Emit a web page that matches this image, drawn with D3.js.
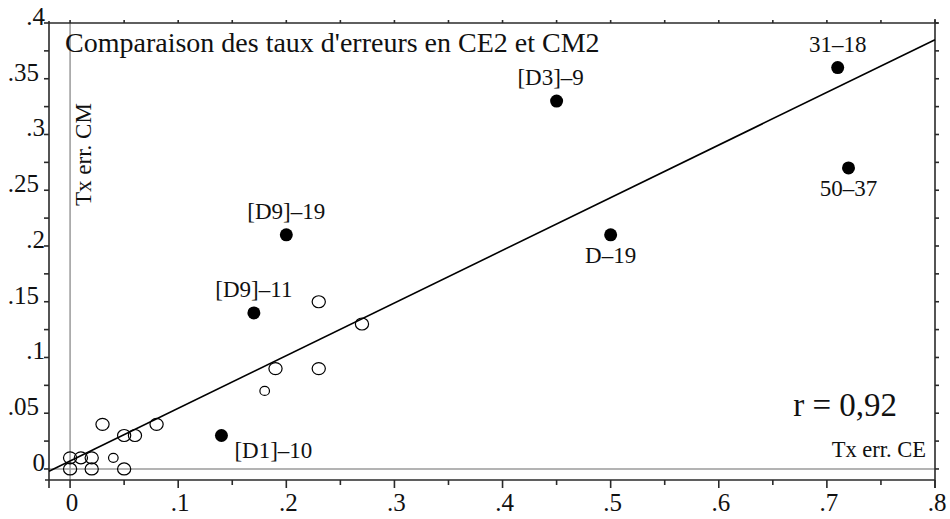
<!DOCTYPE html>
<meta charset="utf-8">
<style>
body { margin: 0; background: #fff; }
svg { display: block; }
text { font-family: "Liberation Serif", "Times New Roman", serif; fill: #111; }
</style>
<svg width="950" height="519"></svg>
<script src="https://d3js.org/d3.v7.min.js"></script>
<script>

// points marked in black, with their labels
var filledX = [0.71, 0.72, 0.45, 0.50, 0.20, 0.17, 0.14];
var filledY = [0.36, 0.27, 0.33, 0.21, 0.21, 0.14, 0.03];
var filledLabels = ["31\u201318", "50\u201337", "[D3]\u20139", "D\u201319", "[D9]\u201319", "[D9]\u201311", "[D1]\u201310"];
var labelSide = ["above", "below", "aboveLeft", "below", "above", "above", "right"];

// other items (open circles); weight 1 = small circle
var openX = [0.23, 0.27, 0.19, 0.23, 0.18, 0.08, 0.06, 0.05, 0.03, 0.04, 0.05, 0, 0, 0.01, 0.02, 0.02];
var openY = [0.15, 0.13, 0.09, 0.09, 0.07, 0.04, 0.03, 0.03, 0.04, 0.01, 0, 0.01, 0, 0.01, 0.01, 0];
var openW = [2, 2, 2, 2, 1, 2, 2, 2, 2, 1, 2, 2, 2, 2, 2, 2];

// regression line end points
var fitX = [-0.0195, 0.8];
var fitY = [-0.002, 0.385];

var xTicks = [0, 0.1, 0.2, 0.3, 0.4, 0.5, 0.6, 0.7, 0.8];
var xTickLabels = ["0", ".1", ".2", ".3", ".4", ".5", ".6", ".7", ".8"];
var yTicks = [0, 0.05, 0.1, 0.15, 0.2, 0.25, 0.3, 0.35, 0.4];
var yTickLabels = ["0", ".05", ".1", ".15", ".2", ".25", ".3", ".35", ".4"];

var xDomain = [-0.0195, 0.8];
var yDomain = [-0.0099, 0.4];

(function() {
var svg = d3.select("svg");
var left = 49, right = 935, top = 23, bottom = 480;

var x = d3.scaleLinear().domain(xDomain).range([left, right]);
var y = d3.scaleLinear().domain(yDomain).range([bottom, top]);

var axisColor = "#2a2a2a";

// grey zero lines
svg.append("line")
    .attr("x1", x(0)).attr("x2", x(0))
    .attr("y1", top).attr("y2", bottom)
    .style("stroke", "#9a9a9a").style("stroke-width", 1.5);
svg.append("line")
    .attr("x1", left).attr("x2", right)
    .attr("y1", y(0)).attr("y2", y(0))
    .style("stroke", "#9a9a9a").style("stroke-width", 1.5);

// frame
var frame = svg.append("g").style("stroke", axisColor).style("stroke-width", 1.6);
frame.append("line").attr("x1", left - 4).attr("x2", right).attr("y1", bottom).attr("y2", bottom);
frame.append("line").attr("x1", left).attr("x2", right + 3).attr("y1", top).attr("y2", top);
frame.append("line").attr("x1", left).attr("x2", left).attr("y1", top - 2).attr("y2", bottom + 8);
frame.append("line").attr("x1", right).attr("x2", right).attr("y1", top - 4).attr("y2", bottom + 8);

var xMinor = d3.range(0, 0.8001, 0.05);
var yMinor = d3.range(0, 0.4001, 0.025);

// bottom ticks (down), top ticks (up)
frame.selectAll(".bt").data(xMinor).enter().append("line")
    .attr("x1", function(d) { return x(d); }).attr("x2", function(d) { return x(d); })
    .attr("y1", bottom)
    .attr("y2", function(d, i) { return bottom + (i % 2 === 0 ? 8 : 5); });
frame.selectAll(".tt").data(xMinor).enter().append("line")
    .attr("x1", function(d) { return x(d); }).attr("x2", function(d) { return x(d); })
    .attr("y1", top).attr("y2", top - 3);

// left ticks (out), right ticks (out)
frame.selectAll(".lt").data(yMinor).enter().append("line")
    .attr("y1", function(d) { return y(d); }).attr("y2", function(d) { return y(d); })
    .attr("x1", left).attr("x2", left - 5);
frame.selectAll(".rt").data(yMinor).enter().append("line")
    .attr("y1", function(d) { return y(d); }).attr("y2", function(d) { return y(d); })
    .attr("x1", right).attr("x2", right + 4);

// tick labels
svg.selectAll(".xl").data(xTicks).enter().append("text")
    .attr("x", function(d) { return x(d) + 2; })
    .attr("y", 511)
    .attr("text-anchor", "middle")
    .style("font-size", "25px")
    .text(function(d, i) { return xTickLabels[i]; });

svg.selectAll(".yl").data(yTicks).enter().append("text")
    .attr("x", function(d, i) { return yTickLabels[i].length > 2 ? 39 : 45; })
    .attr("y", function(d) { return y(d) + 2; })
    .attr("text-anchor", "end")
    .style("font-size", "25px")
    .text(function(d, i) { return yTickLabels[i]; });

// fit line
svg.append("line")
    .attr("x1", x(fitX[0])).attr("y1", y(fitY[0]))
    .attr("x2", x(fitX[1])).attr("y2", y(fitY[1]))
    .style("stroke", "#000").style("stroke-width", 1.6);

// open circles
svg.selectAll(".open").data(openX).enter().append("ellipse")
    .attr("cx", function(d) { return x(d); })
    .attr("cy", function(d, i) { return y(openY[i]); })
    .attr("rx", function(d, i) { return openW[i] === 1 ? 4.8 : 6.6; })
    .attr("ry", function(d, i) { return openW[i] === 1 ? 4.5 : 6; })
    .style("fill", "none")
    .style("stroke", "#000")
    .style("stroke-width", 1.2);

// filled points
svg.selectAll(".filled").data(filledX).enter().append("circle")
    .attr("cx", function(d) { return x(d); })
    .attr("cy", function(d, i) { return y(filledY[i]); })
    .attr("r", 6.5)
    .style("fill", "#000");

svg.selectAll(".lab").data(filledX).enter().append("text")
    .attr("x", function(d, i) {
      var s = labelSide[i];
      return x(d) + (s === "right" ? 13 : s === "aboveLeft" ? -6 : 0);
    })
    .attr("y", function(d, i) {
      var s = labelSide[i];
      return y(filledY[i]) + (s === "below" ? 28 : s === "right" ? 22 : -16);
    })
    .attr("text-anchor", function(d, i) { return labelSide[i] === "right" ? "start" : "middle"; })
    .style("font-size", "23px")
    .text(function(d, i) { return filledLabels[i]; });

// titles
svg.append("text")
    .attr("x", 65).attr("y", 52)
    .style("font-size", "28px")
    .text("Comparaison des taux d'erreurs en CE2 et CM2");

svg.append("text")
    .attr("transform", "translate(91,206) rotate(-90)")
    .style("font-size", "23px")
    .text("Tx err. CM");

svg.append("text")
    .attr("x", 926).attr("y", 457)
    .attr("text-anchor", "end")
    .style("font-size", "22.5px")
    .text("Tx err. CE");

svg.append("text")
    .attr("x", 897).attr("y", 416)
    .attr("text-anchor", "end")
    .style("font-size", "33px")
    .text("r = 0,92");
})();

</script>
